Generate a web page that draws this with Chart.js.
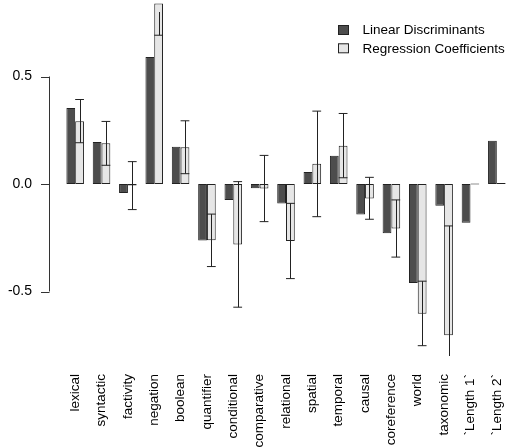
<!DOCTYPE html>
<html>
<head>
<meta charset="utf-8">
<script src="https://cdn.jsdelivr.net/npm/chart.js@4"></script>
<style>
  body { margin: 0; background: #fff; }
  #wrap { width: 510px; height: 447px; }
</style>
</head>
<body>
<div id="wrap"><canvas id="chart" width="510" height="447"></canvas></div>
<script>
const categories = ['lexical', 'syntactic', 'factivity', 'negation', 'boolean', 'quantifier', 'conditional',
    'comparative', 'relational', 'spatial', 'temporal', 'causal', 'coreference', 'world', 'taxonomic',
    '`Length 1`', '`Length 2`'];

const linearDiscriminants = [0.353, 0.195, -0.042, 0.591, 0.173, -0.263, -0.074, -0.020, -0.091, 0.056,
    0.131, -0.142, -0.229, -0.461, -0.101, -0.180, 0.201];

const regressionCoefs = [0.292, 0.189, -0.007, 0.840, 0.171, -0.262, -0.281, -0.021, -0.265, 0.094,
    0.178, -0.067, -0.207, -0.603, -0.703, 0.000, 0.004];

// confidence interval of the regression coefficients (null = none drawn)
const ciLower = [0.192, 0.087, -0.119, 0.692, 0.048, -0.384, -0.573, -0.175, -0.440, -0.152,
    0.029, -0.164, -0.340, -0.752, -1.211, null, null];
const ciUpper = [0.393, 0.291, 0.104, 0.988, 0.294, -0.140, 0.011, 0.133, -0.090, 0.339,
    0.328, 0.031, -0.074, -0.452, -0.195, null, null];

const yTicks = [-0.5, 0, 0.5];

const FONT = { family: '"Liberation Sans", Arial, sans-serif', size: 13.5 };

// whiskers on the light bars, clipped to the plot area like R's arrows()
const errorBars = {
    id: 'errorBars',
    afterDatasetsDraw(chart) {
        const ctx = chart.ctx;
        const y = chart.scales.y;
        const meta = chart.getDatasetMeta(1);
        const area = chart.chartArea;
        ctx.save();
        ctx.beginPath();
        ctx.rect(area.left, area.top, area.right - area.left, area.bottom - area.top);
        ctx.clip();
        ctx.strokeStyle = '#222';
        ctx.lineWidth = 1;
        meta.data.forEach((bar, i) => {
            if (ciLower[i] == null) return;
            const x = Math.round(bar.x) + 0.5;
            const half = bar.width / 2;
            const y0 = y.getPixelForValue(ciLower[i]);
            const y1 = y.getPixelForValue(ciUpper[i]);
            ctx.beginPath();
            ctx.moveTo(x, y0);
            ctx.lineTo(x, y1);
            ctx.moveTo(bar.x - half, y0);
            ctx.lineTo(bar.x + half, y0);
            ctx.moveTo(bar.x - half, y1);
            ctx.lineTo(bar.x + half, y1);
            ctx.stroke();
        });
        ctx.restore();
    }
};

// R style axis: line only between first and last tick, set off from the plot
const rAxis = {
    id: 'rAxis',
    afterDraw(chart) {
        const ctx = chart.ctx;
        const y = chart.scales.y;
        const ax = chart.chartArea.left - 13;
        ctx.save();
        ctx.strokeStyle = '#333';
        ctx.lineWidth = 1;
        ctx.beginPath();
        ctx.moveTo(ax + 0.5, y.getPixelForValue(yTicks[0]));
        ctx.lineTo(ax + 0.5, y.getPixelForValue(yTicks[yTicks.length - 1]));
        yTicks.forEach(v => {
            const py = Math.round(y.getPixelForValue(v)) + 0.5;
            ctx.moveTo(ax + 0.5, py);
            ctx.lineTo(ax - 8, py);
        });
        ctx.stroke();
        ctx.restore();
    }
};

const legendBox = {
    id: 'legendBox',
    afterDraw(chart) {
        const ctx = chart.ctx;
        ctx.save();
        ctx.font = FONT.size + 'px ' + FONT.family;
        ctx.textBaseline = 'middle';
        ctx.fillStyle = '#000';
        chart.data.datasets.forEach((ds, i) => {
            const top = 25 + i * 18.3;
            ctx.fillStyle = ds.backgroundColor;
            ctx.fillRect(338, top, 10, 9);
            ctx.strokeStyle = '#222';
            ctx.strokeRect(338.5, top + 0.5, 10, 9);
            ctx.fillStyle = '#000';
            ctx.fillText(ds.label, 362.5, top + 5.5);
        });
        ctx.restore();
    }
};

function noPadding(scale) {
    scale.paddingTop = 0;
    scale.paddingBottom = 0;
    scale.paddingLeft = 0;
    scale.paddingRight = 0;
}

new Chart(document.querySelector('#chart').getContext('2d'), {
    type: 'bar',
    data: {
        labels: categories,
        datasets: [
            {
                label: 'Linear Discriminants',
                data: linearDiscriminants,
                backgroundColor: '#4d4d4d',
                borderColor: '#222',
                borderWidth: 1,
                borderSkipped: false,
                minBarLength: 1
            },
            {
                label: 'Regression Coefficients',
                data: regressionCoefs,
                backgroundColor: '#e6e6e6',
                borderColor: '#222',
                borderWidth: 1,
                borderSkipped: false,
                minBarLength: 1
            }
        ]
    },
    options: {
        responsive: false,
        animation: false,
        devicePixelRatio: 1,
        clip: false,
        categoryPercentage: 2 / 3,
        barPercentage: 1,
        layout: { padding: { top: 12, right: 0, left: 0, bottom: 0 } },
        plugins: {
            legend: { display: false },
            tooltip: { enabled: false }
        },
        scales: {
            x: {
                grid: { display: false },
                border: { display: false },
                ticks: {
                    minRotation: 90,
                    maxRotation: 90,
                    autoSkip: false,
                    padding: 10,
                    color: '#000',
                    font: FONT
                },
                afterFit(scale) {
                    scale.height = 91;
                    noPadding(scale);
                }
            },
            y: {
                min: -0.8,
                max: 0.8,
                grid: { display: false },
                border: { display: false },
                afterBuildTicks(scale) { scale.ticks = yTicks.map(v => ({ value: v })); },
                ticks: {
                    padding: 22,
                    color: '#000',
                    font: { family: FONT.family, size: 14 },
                    callback: v => v.toFixed(1)
                },
                afterFit(scale) {
                    scale.width = 62;
                    noPadding(scale);
                }
            }
        }
    },
    plugins: [errorBars, rAxis, legendBox]
});
</script>
</body>
</html>
